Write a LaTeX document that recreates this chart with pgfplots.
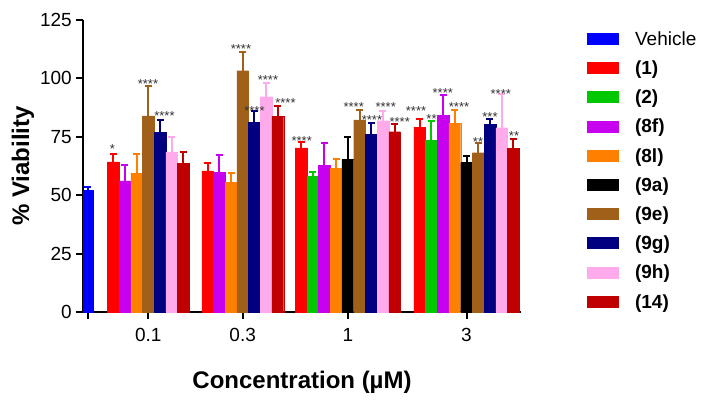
\documentclass[border=0pt]{standalone}
\usepackage{pgfplots}
\usepackage{pgfplotstable}
\pgfplotsset{compat=1.18}
\usepackage{fontspec}
\setmainfont{Liberation Sans}

\definecolor{cVeh}{RGB}{0,0,255}
\definecolor{cOne}{RGB}{255,0,0}
\definecolor{cTwo}{RGB}{0,200,0}
\definecolor{cEf}{RGB}{200,0,240}
\definecolor{cEl}{RGB}{255,128,0}
\definecolor{cNa}{RGB}{0,0,0}
\definecolor{cNe}{RGB}{160,96,26}
\definecolor{cNg}{RGB}{0,0,128}
\definecolor{cNh}{RGB}{255,170,235}
\definecolor{cFt}{RGB}{192,0,0}

% x = bar centre (pixel-based position), y = mean, e = upper error
\pgfplotstableread{
x y e
87.7 52.0 1.5
}\tVeh
\pgfplotstableread{
x y e
113.2 64.3 3.3
207.6 60.4 3.2
301.0 70.3 2.3
419.7 79.1 3.5
}\tOne
\pgfplotstableread{
x y e
312.7 58.2 1.9
431.4 73.6 8.3
}\tTwo
\pgfplotstableread{
x y e
124.9 56.1 6.7
219.3 59.8 7.4
324.4 62.9 9.3
443.1 84.3 8.6
}\tEf
\pgfplotstableread{
x y e
136.6 59.4 8.2
231.0 55.4 4.0
336.1 61.5 3.9
454.8 80.8 5.7
}\tEl
\pgfplotstableread{
x y e
347.8 65.3 9.7
466.5 64.0 2.9
}\tNa
\pgfplotstableread{
x y e
148.3 84.0 12.7
242.7 103.3 8.1
359.5 82.2 4.3
478.2 68.2 4.0
}\tNe
\pgfplotstableread{
x y e
160.0 76.9 5.3
254.4 81.2 4.8
371.2 76.2 4.8
489.9 80.3 2.2
}\tNg
\pgfplotstableread{
x y e
171.7 68.6 6.2
266.1 92.2 5.7
382.9 81.9 4.3
501.6 78.9 14.3
}\tNh
\pgfplotstableread{
x y e
183.4 63.6 5.0
277.8 83.8 4.4
394.6 77.2 3.1
513.3 70.1 4.0
}\tFt
\pgfplotstableread{
x y s
112.3 71.1 *
148.0 98.9 ****
164.5 85.2 ****
241.0 114.0 ****
254.5 87.5 ****
268.0 100.5 ****
285.5 90.8 ****
301.7 74.6 ****
353.7 89.0 ****
372.0 83.6 ****
385.7 89.3 ****
399.7 82.5 ****
416.0 87.2 ****
431.5 83.9 **
442.8 95.0 ****
459.0 89.3 ****
478.0 74.1 **
490.0 84.8 ***
500.8 94.6 ****
514.0 76.8 **
}\tStars

\pgfplotsset{
  mybar/.style={
    ybar, bar width=11.7pt, bar shift=0pt,
    fill=#1, draw=#1, line width=0.2pt,
    legend image code/.code={\fill[#1] (0pt,-5.5pt) rectangle (31pt,5.5pt); \path (48pt,0pt);},
    error bars/.cd,
      y dir=plus, y explicit,
      error bar style={line width=2pt, draw=#1},
      error mark options={line width=2pt, mark size=3.5pt, rotate=90, draw=#1},
  }
}

\begin{document}
\begin{tikzpicture}
\useasboundingbox (0,0) rectangle (712pt,-405pt);
\begin{axis}[
  at={(83pt,-312pt)}, anchor=south west,
  scale only axis, width=438pt, height=292pt,
  xmin=83, xmax=521, ymin=0, ymax=125,
  axis lines*=left,
  axis line style={line width=2pt},
  every tick/.style={line width=2pt, black},
  tick align=outside,
  major tick length=7pt,
  xtick={87.7,148.3,242.7,347.8,466.5},
  xticklabels={,0.1,0.3,1,3},
  ytick={0,25,50,75,100,125},
  /pgf/number format/assume math mode=true,
  tick label style={font=\fontsize{19}{19}\selectfont},
  xticklabel style={anchor=north, inner sep=0pt, yshift=-9pt},
  yticklabel style={anchor=east, inner sep=0pt, xshift=-4pt},
  xlabel={Concentration (µM)},
  ylabel={\% Viability},
  label style={font=\fontsize{24}{24}\selectfont\bfseries},
  xlabel style={at={(axis description cs:0.5,-0.2397)}, anchor=center},
  ylabel style={at={(axis description cs:-0.137,0.5)}, anchor=center, rotate=0},
  legend style={at={(1.15,0.9606)}, anchor=north west, draw=none, fill=none,
    inner xsep=0pt, inner ysep=0pt, row sep=15.6pt,
    font=\fontsize{19}{19}\selectfont,
    nodes={inner sep=0pt, text height=13.6pt, text depth=0pt}},
  legend cell align=left,
]
\addplot[mybar=cVeh] table[x=x,y=y,y error=e]{\tVeh};
\addlegendentry{Vehicle}
\addplot[mybar=cOne] table[x=x,y=y,y error=e]{\tOne};
\addlegendentry{\textbf{(1)}}
\addplot[mybar=cTwo] table[x=x,y=y,y error=e]{\tTwo};
\addlegendentry{\textbf{(2)}}
\addplot[mybar=cEf] table[x=x,y=y,y error=e]{\tEf};
\addlegendentry{\textbf{(8f)}}
\addplot[mybar=cEl] table[x=x,y=y,y error=e]{\tEl};
\addlegendentry{\textbf{(8l)}}
\addplot[mybar=cNa] table[x=x,y=y,y error=e]{\tNa};
\addlegendentry{\textbf{(9a)}}
\addplot[mybar=cNe] table[x=x,y=y,y error=e]{\tNe};
\addlegendentry{\textbf{(9e)}}
\addplot[mybar=cNg] table[x=x,y=y,y error=e]{\tNg};
\addlegendentry{\textbf{(9g)}}
\addplot[mybar=cNh] table[x=x,y=y,y error=e]{\tNh};
\addlegendentry{\textbf{(9h)}}
\addplot[mybar=cFt] table[x=x,y=y,y error=e]{\tFt};
\addlegendentry{\textbf{(14)}}
\addplot[forget plot, only marks, mark=none, nodes near coords,
  point meta=explicit symbolic,
  nodes near coords style={anchor=base, yshift=-7.6pt, inner sep=0pt,
    font=\fontsize{13}{13}\selectfont, text=black!80}]
  table[x=x,y=y,meta=s]{\tStars};
\end{axis}
\end{tikzpicture}
\end{document}
